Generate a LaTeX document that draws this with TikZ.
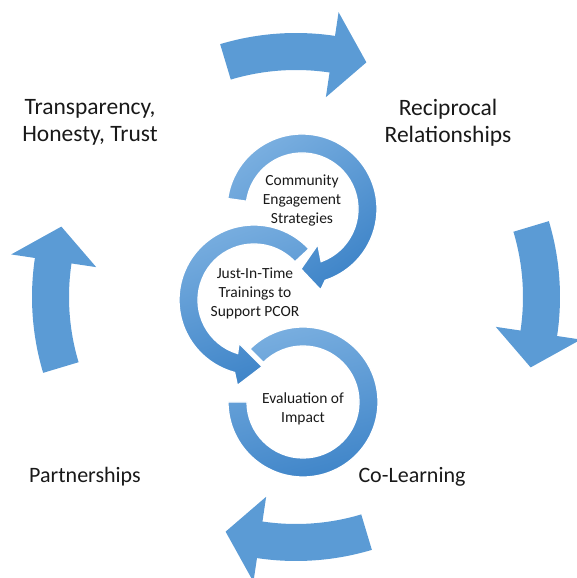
\documentclass[tikz,border=0pt]{standalone}
\usepackage{fontspec}
\setmainfont{Carlito}
\definecolor{arrowblue}{HTML}{5B9BD5}
\definecolor{ringlight}{HTML}{7AAFE0}
\definecolor{ringdark}{HTML}{3E84C8}
\begin{document}
\begin{tikzpicture}[x=1pt,y=1pt,
  outerarrow/.style={fill=arrowblue},
  ringshape/.style={draw=white,line width=1.3pt,top color=ringlight,bottom color=ringdark},
  biglabel/.style={font=\fontsize{22}{26}\selectfont,align=center,text=black!90},
  toplabel/.style={font=\fontsize{23.5}{27}\selectfont,align=center,text=black!90},
  smalllabel/.style={font=\fontsize{15.5}{19}\selectfont,align=center,text=black!90}]
\useasboundingbox (0,0) rectangle (577,578);
\clip (0,0) rectangle (577,578);
% outer curved arrows
\begin{scope}[shift={(296,281)}]
\foreach \c in {90,0,-90,-180}{
  \path[outerarrow] ({\c+16.7}:264pt) arc[start angle=\c+16.7, end angle=\c-8.5, radius=264pt]
    -- ({\c-8.5}:288pt) -- ({\c-16.7}:245pt) -- ({\c-8.5}:202pt) -- ({\c-8.5}:227pt)
    arc[start angle=\c-8.5, end angle=\c+16.7, radius=227pt] -- cycle;
}
\end{scope}
% inner circular arrows
\begin{scope}[shift={(303,176)}]
\path[ringshape,shading angle=15] (135:75pt) arc[start angle=135, end angle=-180, radius=75pt]
  -- (-180:56pt) arc[start angle=-180, end angle=135, radius=56pt] -- cycle;
\end{scope}
\begin{scope}[shift={(254,278)}]
\path[ringshape,shading angle=20] (43:75pt) arc[start angle=43, end angle=255, radius=75pt]
  -- (259:87pt) -- (277:67pt) -- (251:46pt) -- (253:56pt)
  arc[start angle=253, end angle=43, radius=56pt] -- cycle;
\end{scope}
\begin{scope}[shift={(302,369)}]
\path[ringshape,shading angle=35] (172:75pt) arc[start angle=172, end angle=-72, radius=75pt]
  -- (-77:83pt) -- (-91:60pt) -- (-66:39pt) -- (-70:56pt)
  arc[start angle=-70, end angle=172, radius=56pt] -- cycle;
\end{scope}
% labels
\node[toplabel] (trust) at (90,456) {Transparency,\\Honesty, Trust};
\node[toplabel] (recip) at (448,455) {Reciprocal\\Relationships};
\node[biglabel] (partner) at (85,101) {Partnerships};
\node[biglabel] (colearn) at (412,101) {Co-Learning};
\node[smalllabel] (community) at (302,377) {Community\\Engagement\\Strategies};
\node[smalllabel] (training) at (255,285) {Just-In-Time\\Trainings to\\Support PCOR};
\node[smalllabel] (evaluation) at (303,169) {Evaluation of\\Impact};
\end{tikzpicture}
\end{document}
